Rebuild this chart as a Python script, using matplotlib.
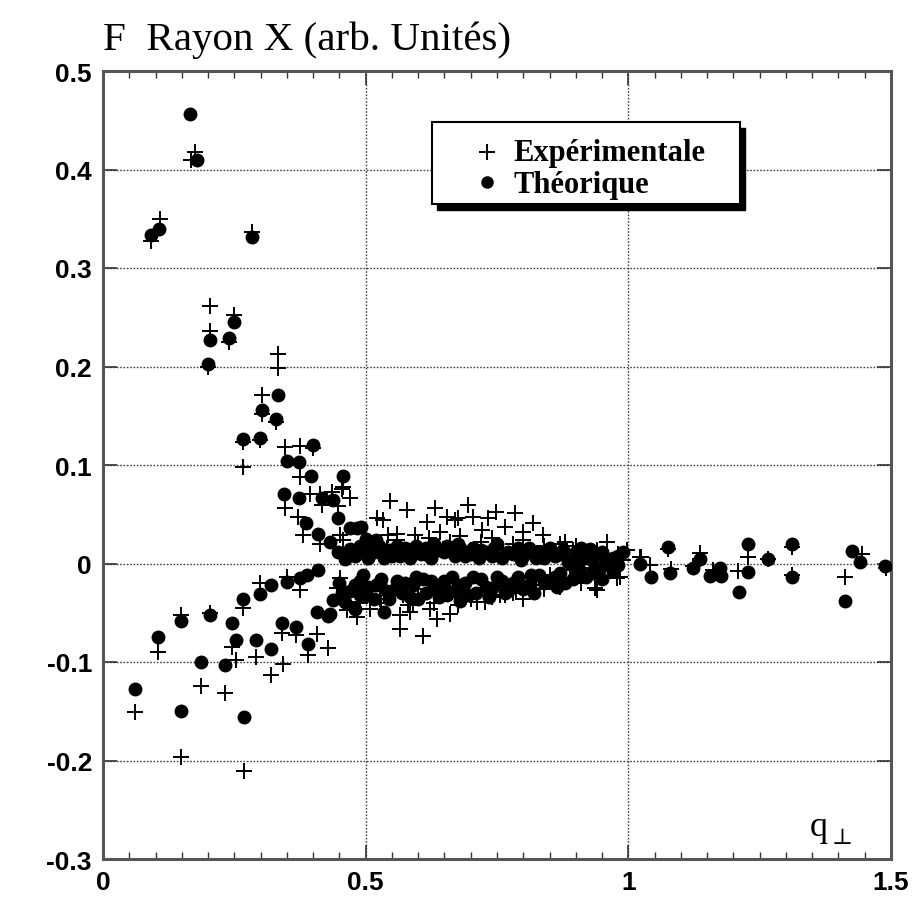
import matplotlib
matplotlib.use("Agg")
import matplotlib.pyplot as plt
import matplotlib.patches as mpatches
from matplotlib.lines import Line2D
from matplotlib.ticker import MultipleLocator

# Experimental points (+)
exp_q = [0.061, 0.091, 0.109, 0.104, 0.148, 0.148, 0.168, 0.175, 0.187, 0.199,
         0.204, 0.204, 0.204, 0.232, 0.240, 0.245, 0.250, 0.253, 0.266, 0.266,
         0.266, 0.268, 0.283, 0.291, 0.299, 0.299, 0.303, 0.303, 0.320, 0.329,
         0.334, 0.334, 0.340, 0.342, 0.346, 0.346, 0.350, 0.367, 0.372, 0.375,
         0.375, 0.375, 0.381, 0.391, 0.394, 0.400, 0.408, 0.413, 0.413, 0.416,
         0.429, 0.435, 0.448, 0.451, 0.454, 0.457, 0.457, 0.464, 0.470, 0.483,
         0.451, 0.445, 0.470, 0.508, 0.527, 0.565, 0.565, 0.572, 0.584, 0.591,
         0.610, 0.622, 0.635, 0.648, 0.660, 0.676, 0.686, 0.711, 0.730, 0.756,
         0.768, 0.787, 0.813, 0.825, 0.851, 0.876, 0.889, 0.902, 0.927, 0.940,
         0.965, 0.978, 0.689, 0.765, 0.727, 0.829, 0.936, 0.984,
         0.546, 0.578, 0.521, 0.533, 0.632, 0.616, 0.654, 0.670, 0.559, 0.594,
         0.543, 0.641, 0.695, 0.749, 0.784, 0.705, 0.733, 0.676, 0.819, 0.765,
         0.721, 0.800, 0.838, 0.879, 0.895, 0.959, 0.997, 1.022,
         0.520, 0.580, 0.640, 0.700, 0.760, 0.820, 0.860, 0.920, 0.960, 0.990,
         0.470, 0.500, 0.540, 0.560, 0.600, 0.620, 0.660, 0.680, 0.720, 0.740,
         0.780, 0.800, 0.840, 0.870, 0.900, 0.940, 0.980,
         0.460, 0.490, 0.510, 0.530, 0.550, 0.580, 0.600, 0.630, 0.660, 0.700,
         0.740, 0.780, 0.800, 0.840, 0.870, 0.910, 0.950,
         1.025, 1.041, 1.076, 1.082, 1.124, 1.136, 1.162, 1.209, 1.228, 1.266,
         1.311, 1.311, 1.412, 1.444, 1.490]
exp_f = [-0.151, 0.327, 0.350, -0.090, -0.052, -0.196, 0.410, 0.418, -0.124, 0.199,
         0.261, 0.236, -0.050, -0.131, 0.225, -0.085, 0.252, -0.098, 0.123, 0.098,
         -0.045, -0.211, 0.337, -0.095, 0.125, -0.020, 0.171, 0.152, -0.113, 0.144,
         0.213, 0.198, -0.071, -0.102, 0.118, 0.056, -0.014, -0.073, 0.047, 0.119,
         0.088, -0.027, 0.029, -0.093, 0.071, 0.117, -0.072, 0.071, 0.020, 0.059,
         -0.086, 0.073, 0.058, 0.029, 0.076, 0.078, 0.024, -0.047, 0.066, -0.054,
         -0.015, -0.025, -0.039, -0.046, -0.036, -0.066, -0.052, -0.032, -0.049, -0.042,
         -0.074, -0.046, -0.056, -0.032, -0.051, -0.042, -0.029, -0.039, -0.025, -0.032,
         -0.022, -0.027, -0.015, -0.022, -0.012, -0.015, -0.007, -0.012, -0.005, -0.027,
         -0.002, -0.015, -0.029, -0.032, -0.039, -0.015, -0.025, -0.014,
         0.063, 0.054, 0.046, 0.044, 0.056, 0.042, 0.047, 0.044, 0.030, 0.029,
         0.029, 0.032, 0.059, 0.052, 0.051, 0.047, 0.046, 0.046, 0.041, 0.037,
         0.034, 0.032, 0.029, 0.022, 0.014, 0.022, 0.014, 0.007,
         0.015, 0.012, 0.018, 0.014, 0.016, 0.012, 0.010, 0.008, 0.006, 0.004,
         0.010, 0.020, 0.016, 0.024, 0.020, 0.026, 0.022, 0.028, 0.022, 0.026,
         0.020, 0.024, 0.018, 0.020, 0.018, 0.014, 0.010,
         -0.030, -0.040, -0.026, -0.040, -0.030, -0.042, -0.026, -0.040, -0.030, -0.036,
         -0.034, -0.030, -0.036, -0.026, -0.024, -0.020, -0.014,
         0.007, -0.002, 0.015, -0.006, -0.003, 0.011, -0.007, -0.008, 0.007, 0.005,
         0.017, -0.012, -0.014, 0.010, -0.005]

# Theoretical points (filled circles)
th_q = [0.061, 0.091, 0.104, 0.107, 0.148, 0.148, 0.166, 0.178, 0.187, 0.199,
        0.204, 0.204, 0.232, 0.240, 0.245, 0.250, 0.253, 0.266, 0.266, 0.268,
        0.283, 0.291, 0.299, 0.299, 0.303, 0.320, 0.320, 0.329, 0.334, 0.340,
        0.345, 0.350, 0.350, 0.367, 0.374, 0.374, 0.375, 0.386, 0.388, 0.391,
        0.395, 0.400, 0.407, 0.410, 0.410, 0.416, 0.429, 0.432, 0.438, 0.438,
        0.448, 0.448, 0.457, 0.461, 0.470, 0.480, 0.483, 0.492, 0.432, 0.489,
        0.495, 0.527, 0.534,
        0.460, 0.500, 0.510, 0.530, 0.550, 0.560, 0.580, 0.600, 0.620, 0.630,
        0.650, 0.670, 0.680, 0.700, 0.720, 0.740, 0.750, 0.770, 0.790, 0.800,
        0.820, 0.840, 0.850, 0.870, 0.890, 0.900, 0.920, 0.940, 0.960, 0.980,
        0.990, 0.500, 0.520,
        0.470, 0.480, 0.490, 0.505, 0.515, 0.525, 0.535, 0.545, 0.565, 0.575,
        0.585, 0.595, 0.605, 0.615, 0.625, 0.640, 0.655, 0.665, 0.675, 0.690,
        0.705, 0.715, 0.730, 0.745, 0.760, 0.780, 0.795, 0.810, 0.825, 0.835,
        0.860, 0.875, 0.885, 0.905, 0.910, 0.930, 0.950, 0.970,
        0.450, 0.470, 0.490, 0.500, 0.520, 0.540, 0.560, 0.570, 0.590, 0.600,
        0.610, 0.630, 0.640, 0.650, 0.670, 0.680, 0.690, 0.710, 0.720, 0.740,
        0.760, 0.770, 0.790, 0.810, 0.830, 0.850, 0.870, 0.880, 0.900, 0.920,
        0.940, 0.958, 0.970, 0.914, 0.927, 0.946, 0.962,
        0.455, 0.480, 0.505, 0.515, 0.530, 0.545, 0.555, 0.575, 0.585, 0.595,
        0.615, 0.625, 0.645, 0.655, 0.665, 0.675, 0.695, 0.705, 0.730, 0.735,
        0.750, 0.765, 0.780, 0.800, 0.815, 0.820, 0.840, 0.860, 0.865, 0.895,
        0.905, 0.930, 0.950, 0.980,
        1.022, 1.044, 1.076, 1.079, 1.124, 1.136, 1.155, 1.174, 1.177, 1.211,
        1.228, 1.228, 1.266, 1.311, 1.311, 1.412, 1.425, 1.441, 1.488]
th_f = [-0.127, 0.333, -0.075, 0.340, -0.058, -0.150, 0.456, 0.410, -0.100, 0.203,
        0.227, -0.052, -0.103, 0.229, -0.060, 0.245, -0.078, 0.126, -0.036, -0.156,
        0.331, -0.078, 0.127, -0.031, 0.156, -0.087, -0.022, 0.147, 0.171, -0.060,
        0.071, 0.104, -0.019, -0.064, 0.103, 0.066, -0.015, 0.041, -0.012, -0.082,
        0.089, 0.120, -0.049, 0.030, -0.007, 0.066, -0.053, 0.022, 0.064, -0.037,
        0.046, 0.012, 0.089, -0.039, 0.036, -0.046, 0.036, 0.037, -0.051, -0.032,
        -0.012, -0.019, -0.049,
        0.005, 0.010, 0.020, 0.012, 0.008, 0.018, 0.010, 0.014, 0.008, 0.020,
        0.012, 0.008, 0.016, 0.010, 0.014, 0.008, 0.020, 0.012, 0.016, 0.008,
        0.012, 0.006, 0.016, 0.010, 0.004, 0.012, 0.006, 0.010, 0.002, 0.008,
        0.012, 0.025, 0.024,
        0.015, 0.008, 0.018, 0.006, 0.012, 0.018, 0.006, 0.014, 0.008, 0.016,
        0.006, 0.018, 0.010, 0.016, 0.006, 0.014, 0.018, 0.012, 0.020, 0.008,
        0.016, 0.006, 0.012, 0.016, 0.006, 0.010, 0.004, 0.016, 0.006, 0.012,
        0.008, 0.014, 0.002, 0.008, 0.016, 0.004, 0.012, 0.006,
        -0.020, -0.028, -0.018, -0.032, -0.022, -0.028, -0.018, -0.030, -0.022, -0.036,
        -0.016, -0.026, -0.034, -0.018, -0.028, -0.038, -0.020, -0.030, -0.016, -0.025,
        -0.018, -0.028, -0.014, -0.022, -0.012, -0.018, -0.010, -0.020, -0.008, -0.014,
        -0.006, 0.002, -0.008, -0.012, 0.015, -0.005, 0.002,
        -0.030, -0.022, -0.024, -0.036, -0.016, -0.036, -0.026, -0.020, -0.034, -0.014,
        -0.030, -0.018, -0.024, -0.032, -0.014, -0.022, -0.032, -0.014, -0.024, -0.034,
        -0.014, -0.030, -0.020, -0.026, -0.012, -0.030, -0.020, -0.014, -0.024, -0.016,
        -0.004, -0.010, -0.016, -0.002,
        0.000, -0.014, 0.017, -0.010, -0.005, 0.005, -0.013, -0.005, -0.013, -0.029,
        0.020, -0.009, 0.005, 0.020, -0.014, -0.038, 0.013, 0.002, -0.003]

fig = plt.figure(figsize=(9.14, 9.12), dpi=100)
fig.patch.set_facecolor('white')
ax = fig.add_axes([103 / 914, 1 - 860 / 912, 788 / 914, 788 / 912])

ax.plot(exp_q, exp_f, ls='none', marker='+', ms=12, mew=1.4, color='black',
        zorder=3)
ax.plot(th_q, th_f, ls='none', marker='o', ms=9, mec='black', mfc='black',
        zorder=3)

ax.set_xlim(0, 1.5)
ax.set_ylim(-0.3, 0.5)
ax.xaxis.set_major_locator(MultipleLocator(0.5))
ax.xaxis.set_minor_locator(MultipleLocator(0.05))
ax.yaxis.set_major_locator(MultipleLocator(0.1))
ax.xaxis.set_major_formatter(plt.FuncFormatter(lambda v, p: f'{v:g}'))
ax.yaxis.set_major_formatter(plt.FuncFormatter(
    lambda v, p: '0' if abs(v) < 1e-9 else f'{v:.1f}'))

ax.grid(True, which='major', linestyle=(0, (1.2, 1.2)), linewidth=1.0,
        color='#444444')
ax.tick_params(which='both', direction='in', top=True, right=True,
               color='#333333')
ax.tick_params(which='major', length=10, width=1.2, labelsize=19, pad=8)
ax.tick_params(which='minor', length=5, width=1.0)
for lab in ax.get_xticklabels() + ax.get_yticklabels():
    lab.set_fontweight('bold')
    lab.set_family('Liberation Sans')
for s in ax.spines.values():
    s.set_linewidth(2.2)
    s.set_color('#555555')

# title and axis label
fig.text(103 / 914, 1 - 50 / 912, 'F  Rayon X (arb. Unités)',
         family='Liberation Serif', fontsize=29.5, ha='left', va='baseline')
ax.text(0.897, 0.030, 'q', transform=ax.transAxes, family='Liberation Serif',
        fontsize=26, ha='left', va='baseline')
ax.text(0.925, 0.020, '\u22a5', transform=ax.transAxes,
        family=['DejaVu Serif'], fontsize=16, ha='left', va='baseline')

# legend box with shadow
lx0, ly0, lx1, ly1 = 432, 123, 740, 205
shadow = mpatches.Rectangle((((lx0 + 5) / 914), 1 - (ly1 + 6) / 912),
                            (lx1 - lx0) / 914, (ly1 - ly0) / 912,
                            transform=fig.transFigure, facecolor='black',
                            edgecolor='black', zorder=4)
box = mpatches.Rectangle((lx0 / 914, 1 - ly1 / 912), (lx1 - lx0) / 914,
                         (ly1 - ly0) / 912, transform=fig.transFigure,
                         facecolor='white', edgecolor='black', lw=1.5, zorder=5)
fig.add_artist(shadow)
fig.add_artist(box)
fig.add_artist(Line2D([487 / 914], [1 - 153 / 912], marker='+', ms=12, mew=1.4,
                      color='black', transform=fig.transFigure, zorder=6))
fig.add_artist(Line2D([487 / 914], [1 - 183 / 912], marker='o', ms=8,
                      color='black', transform=fig.transFigure, zorder=6))
fig.text(513 / 914, 1 - 153 / 912, 'Expérimentale', family='Liberation Serif',
         fontweight='bold', fontsize=22, va='center', ha='left', zorder=6)
fig.text(513 / 914, 1 - 185 / 912, 'Théorique', family='Liberation Serif',
         fontweight='bold', fontsize=22, va='center', ha='left', zorder=6)

fig.savefig('out.png', dpi=100, facecolor='white')
